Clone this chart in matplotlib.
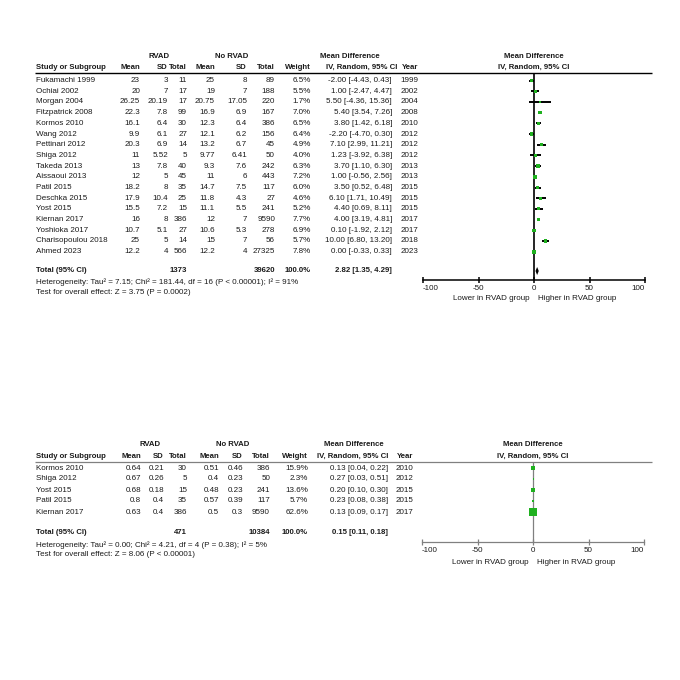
import numpy as np
import matplotlib
matplotlib.use("Agg")
import matplotlib.pyplot as plt

plt.rcParams['font.family'] = ['Liberation Sans', 'DejaVu Sans']

# ---------------- data: panel 1 ----------------
studies1 = ["Fukamachi 1999", "Ochiai 2002", "Morgan 2004", "Fitzpatrick 2008", "Kormos 2010",
            "Wang 2012", "Pettinari 2012", "Shiga 2012", "Takeda 2013", "Aissaoui 2013",
            "Patil 2015", "Deschka 2015", "Yost 2015", "Kiernan 2017", "Yoshioka 2017",
            "Charisopoulou 2018", "Ahmed 2023"]
rvad_mean1 = [23, 20, 26.25, 22.3, 16.1, 9.9, 20.3, 11, 13, 12, 18.2, 17.9, 15.5, 16, 10.7, 25, 12.2]
rvad_sd1 = [3, 7, 20.19, 7.8, 6.4, 6.1, 6.9, 5.52, 7.8, 5, 8, 10.4, 7.2, 8, 5.1, 5, 4]
rvad_n1 = [11, 17, 17, 99, 30, 27, 14, 5, 40, 45, 35, 25, 15, 386, 27, 14, 566]
no_mean1 = [25, 19, 20.75, 16.9, 12.3, 12.1, 13.2, 9.77, 9.3, 11, 14.7, 11.8, 11.1, 12, 10.6, 15, 12.2]
no_sd1 = [8, 7, 17.05, 6.9, 6.4, 6.2, 6.7, 6.41, 7.6, 6, 7.5, 4.3, 5.5, 7, 5.3, 7, 4]
no_n1 = [89, 188, 220, 167, 386, 156, 45, 50, 242, 443, 117, 27, 241, 9590, 278, 56, 27325]
weight1 = [6.5, 5.5, 1.7, 7.0, 6.5, 6.4, 4.9, 4.0, 6.3, 7.2, 6.0, 4.6, 5.2, 7.7, 6.9, 5.7, 7.8]
md1 = [-2.00, 1.00, 5.50, 5.40, 3.80, -2.20, 7.10, 1.23, 3.70, 1.00, 3.50, 6.10, 4.40, 4.00, 0.10, 10.00, 0.00]
lo1 = [-4.43, -2.47, -4.36, 3.54, 1.42, -4.70, 2.99, -3.92, 1.10, -0.56, 0.52, 1.71, 0.69, 3.19, -1.92, 6.80, -0.33]
hi1 = [0.43, 4.47, 15.36, 7.26, 6.18, 0.30, 11.21, 6.38, 6.30, 2.56, 6.48, 10.49, 8.11, 4.81, 2.12, 13.20, 0.33]
year1 = [1999, 2002, 2004, 2008, 2010, 2012, 2012, 2012, 2013, 2013, 2015, 2015, 2015, 2017, 2017, 2018, 2023]
total1 = dict(n_rvad=1373, n_no=39620, md=2.82, lo=1.35, hi=4.29)
het1 = "Heterogeneity: Tau\u00b2 = 7.15; Chi\u00b2 = 181.44, df = 16 (P < 0.00001); I\u00b2 = 91%"
test1 = "Test for overall effect: Z = 3.75 (P = 0.0002)"

# ---------------- data: panel 2 ----------------
studies2 = ["Kormos 2010", "Shiga 2012", "Yost 2015", "Patil 2015", "Kiernan 2017"]
rvad_mean2 = [0.64, 0.67, 0.68, 0.8, 0.63]
rvad_sd2 = [0.21, 0.26, 0.18, 0.4, 0.4]
rvad_n2 = [30, 5, 15, 35, 386]
no_mean2 = [0.51, 0.4, 0.48, 0.57, 0.5]
no_sd2 = [0.46, 0.23, 0.23, 0.39, 0.3]
no_n2 = [386, 50, 241, 117, 9590]
weight2 = [15.9, 2.3, 13.6, 5.7, 62.6]
md2 = [0.13, 0.27, 0.20, 0.23, 0.13]
lo2 = [0.04, 0.03, 0.10, 0.08, 0.09]
hi2 = [0.22, 0.51, 0.30, 0.38, 0.17]
year2 = [2010, 2012, 2015, 2015, 2017]
total2 = dict(n_rvad=471, n_no=10384, md=0.15, lo=0.11, hi=0.18)
het2 = "Heterogeneity: Tau\u00b2 = 0.00; Chi\u00b2 = 4.21, df = 4 (P = 0.38); I\u00b2 = 5%"
test2 = "Test for overall effect: Z = 8.06 (P < 0.00001)"

xticks = [-100, -50, 0, 50, 100]
FS = 5.8
HFS = 5.6
TXT = "#1a1a1a"
GREEN = "#1fb01f"

fig = plt.figure(figsize=(6.8, 6.8), dpi=100)
tab = fig.add_axes([0, 0, 1, 1])
tab.set_xlim(0, 680)
tab.set_ylim(680, 0)
tab.axis("off")


def g(v):
    return f"{v:g}"


def panel(studies, rm, rs, rn, nm, ns, nn, w, md, lo, hi, yr, tot, het, test, L):
    cols = L["cols"]
    # headers
    kw = dict(va="center", fontsize=HFS, weight="bold", color=TXT)
    tab.text(L["rvad_c"], L["h1"], "RVAD", ha="center", **kw)
    tab.text(L["no_c"], L["h1"], "No RVAD", ha="center", **kw)
    tab.text(L["md_c"], L["h1"], "Mean Difference", ha="center", **kw)
    fc = L["fx0"] + (L["fx1"] - L["fx0"]) / 2
    tab.text(fc, L["h1"], "Mean Difference", ha="center", **kw)
    tab.text(fc, L["h2"], "IV, Random, 95% CI", ha="center", **kw)
    tab.text(36, L["h2"], "Study or Subgroup", ha="left", **kw)
    hdrs = ["Mean", "SD", "Total", "Mean", "SD", "Total", "Weight"]
    for hx, ht in zip(cols[:7], hdrs):
        tab.text(hx, L["h2"], ht, ha="right", **kw)
    tab.text(L["ci_hdr"], L["h2"], "IV, Random, 95% CI", ha="right", **kw)
    tab.text(cols[8], L["h2"], "Year", ha="right", **kw)
    tab.plot([35, 652], [L["hline"], L["hline"]], color=L["lc"], lw=L["hlw"], solid_capstyle="butt")

    ys = [L["r0"] + L["dy"] * i for i in range(len(studies))]
    for i, y in enumerate(ys):
        vals = [g(rm[i]), g(rs[i]), str(rn[i]), g(nm[i]), g(ns[i]), str(nn[i]), f"{w[i]:.1f}%",
                f"{md[i]:.2f} [{lo[i]:.2f}, {hi[i]:.2f}]", str(yr[i])]
        tab.text(36, y, studies[i], ha="left", va="center", fontsize=FS, color=TXT)
        for cx, v in zip(cols, vals):
            tab.text(cx, y, v, ha="right", va="center", fontsize=FS, color=TXT)

    yt = L["ytot"]
    tab.text(36, yt, "Total (95% CI)", ha="left", **kw)
    tab.text(cols[2], yt, str(tot["n_rvad"]), ha="right", **kw)
    tab.text(cols[5], yt, str(tot["n_no"]), ha="right", **kw)
    tab.text(cols[6], yt, "100.0%", ha="right", **kw)
    tab.text(cols[7], yt, f"{tot['md']:.2f} [{tot['lo']:.2f}, {tot['hi']:.2f}]", ha="right", **kw)
    tab.text(36, L["yhet"], het, ha="left", va="center", fontsize=FS, color=TXT)
    tab.text(36, L["ytest"], test, ha="left", va="center", fontsize=FS, color=TXT)

    # forest axes
    fa = fig.add_axes([L["fx0"] / 680, 1 - L["axis_y"] / 680, (L["fx1"] - L["fx0"]) / 680,
                       (L["axis_y"] - L["hline"]) / 680])
    fa.set_xlim(-100, 100)
    fa.set_ylim(L["axis_y"], L["hline"])
    fa.patch.set_alpha(0)
    for s in ["top", "left", "right"]:
        fa.spines[s].set_visible(False)
    fa.spines["bottom"].set_color(L["lc"])
    fa.spines["bottom"].set_linewidth(L["alw"])
    fa.set_yticks([])
    fa.set_xticks(xticks)
    fa.set_xticklabels([str(t) for t in xticks])
    fa.tick_params(axis="x", direction="inout", length=5, width=L["alw"], color=L["lc"],
                   labelsize=FS, pad=1, labelcolor=TXT)
    lbls = fa.get_xticklabels()
    lbls[0].set_horizontalalignment("left")
    lbls[-1].set_horizontalalignment("right")
    fa.axvline(0, color=L["lc"], lw=L["zlw"], zorder=2)
    fa.hlines(ys, lo, hi, color="black", lw=1.4, zorder=3)
    side_pt = np.sqrt(np.array(w)) * 0.72 * L["msc"]
    fa.scatter(md, ys, marker="s", s=side_pt ** 2, color=GREEN, linewidths=0, zorder=4)
    dh = 4
    fa.fill([tot["lo"], tot["md"], tot["hi"], tot["md"]], [yt, yt - dh, yt, yt + dh],
            color="black", lw=0, zorder=1)
    tab.text(L["zx"] - 4, L["ylab"], "Lower in RVAD group", ha="right", va="center", fontsize=FS, color=TXT)
    tab.text(L["zx"] + 4, L["ylab"], "Higher in RVAD group", ha="left", va="center", fontsize=FS, color=TXT)


L1 = dict(cols=[140, 168, 187, 215, 247, 275, 311, 392, 418], ci_hdr=397,
          rvad_c=159, no_c=232, md_c=350, h1=56.5, h2=67.5, hline=73,
          r0=80.5, dy=10.7, ytot=271, yhet=282.5, ytest=293,
          fx0=423, fx1=645, axis_y=280, zx=534, ylab=298,
          lc="black", hlw=1.0, alw=1.1, zlw=1.2, msc=1.3)
L2 = dict(cols=[141, 164, 187, 219, 243, 270, 308, 388, 413], ci_hdr=388,
          rvad_c=150, no_c=233, md_c=354, h1=445, h2=456, hline=461.5,
          r0=468, dy=11, ytot=533, yhet=545, ytest=554.5,
          fx0=422, fx1=644, axis_y=542, zx=533, ylab=562,
          lc="#808080", hlw=0.9, alw=0.9, zlw=0.9, msc=1.0)

panel(studies1, rvad_mean1, rvad_sd1, rvad_n1, no_mean1, no_sd1, no_n1, weight1, md1, lo1, hi1, year1,
      total1, het1, test1, L1)
panel(studies2, rvad_mean2, rvad_sd2, rvad_n2, no_mean2, no_sd2, no_n2, weight2, md2, lo2, hi2, year2,
      total2, het2, test2, L2)

fig.savefig("out.png", dpi=100)
